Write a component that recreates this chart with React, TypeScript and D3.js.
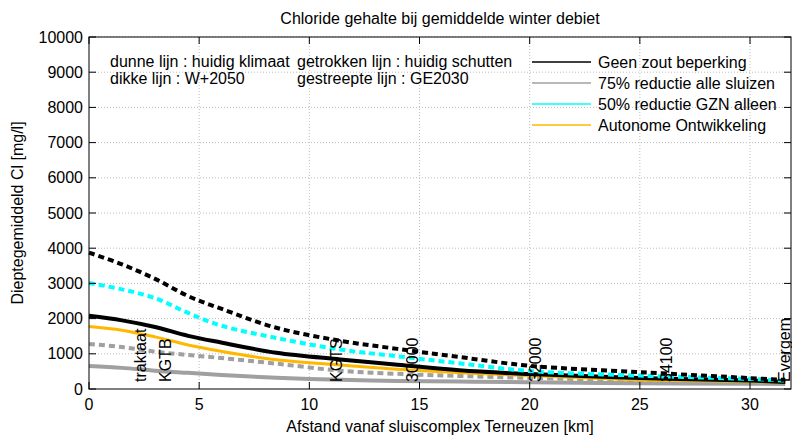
import React, { useEffect, useRef } from 'react';
import * as d3 from 'd3';

const km = [0, 1.5, 3, 4.5, 6, 8.5, 11.4, 14, 16.8, 20, 25, 30, 31.6];

// W+2050 (dikke lijnen)
const geenZoutGE = [3875, 3540, 3130, 2640, 2280, 1740, 1370, 1140, 910, 660, 480, 310, 260];
const gznGE = [3010, 2830, 2580, 2160, 1800, 1450, 1120, 930, 730, 510, 380, 285, 240];
const geenZout = [2080, 1950, 1760, 1510, 1320, 1030, 840, 690, 530, 425, 315, 240, 200];
const autonoom = [1775, 1670, 1480, 1250, 1070, 830, 685, 560, 465, 380, 265, 215, 185];
const alleSluizenGE = [1280, 1190, 1060, 965, 880, 720, 520, 430, 370, 315, 250, 215, 200];
const alleSluizen = [655, 600, 520, 460, 400, 320, 260, 230, 210, 190, 165, 150, 145];

const xTicks = [0, 5, 10, 15, 20, 25, 30];
const yTicks = [0, 1000, 2000, 3000, 4000, 5000, 6000, 7000, 8000, 9000, 10000];

const legendLabels = ['Geen zout beperking', '75% reductie alle sluizen', '50% reductie GZN alleen', 'Autonome Ontwikkeling'];
const legendColors = ['#000000', '#a0a0a0', '#00ffff', '#ffb800'];

const notesLeft = ['dunne lijn : huidig klimaat', 'dikke lijn : W+2050'];
const notesRight = ['getrokken lijn : huidig schutten', 'gestreepte lijn : GE2030'];

// locaties langs het kanaal (km)
const placeNames = ['traktaat', 'KGTB', 'KGTS', '30000', '32000', '34100', 'Evergem'];
const placeKm = [2.6, 3.7, 11.5, 14.95, 20.5, 26.45, 31.8];

const FONT = '"Liberation Sans", Arial, sans-serif';

export default function App() {
  const svgRef = useRef(null);

  useEffect(() => {
    const svg = d3.select(svgRef.current);
    svg.selectAll('*').remove();

    const W = 792, H = 439;
    const left = 89, right = 791, top = 37, bottom = 389;

    const x = d3.scaleLinear().domain([0, 31.86]).range([left, right]);
    const y = d3.scaleLinear().domain([0, 10000]).range([bottom, top]);

    svg.append('rect').attr('width', W).attr('height', H).attr('fill', '#fff');

    // grid
    const grid = svg.append('g').attr('stroke', '#bdbdbd').attr('stroke-width', 1).attr('stroke-dasharray', '1,2');
    xTicks.filter(t => t > 0).forEach(t => {
      grid.append('line').attr('x1', x(t)).attr('x2', x(t)).attr('y1', top).attr('y2', bottom);
    });
    yTicks.filter(t => t > 0).forEach(t => {
      grid.append('line').attr('x1', left).attr('x2', right).attr('y1', y(t)).attr('y2', y(t));
    });

    // lijnen
    const line = d3.line<number>()
      .x((d, i) => x(km[i]))
      .y(d => y(d))
      .curve(d3.curveCatmullRom.alpha(0.5));

    const series = [
      { data: alleSluizen, color: '#a0a0a0', width: 4, dash: null },
      { data: alleSluizenGE, color: '#a0a0a0', width: 4, dash: '6,4' },
      { data: autonoom, color: '#ffb800', width: 3, dash: null },
      { data: geenZout, color: '#000000', width: 4, dash: null },
      { data: gznGE, color: '#00ffff', width: 4, dash: '6,4' },
      { data: geenZoutGE, color: '#000000', width: 4, dash: '6,4' },
    ];
    series.forEach(s => {
      svg.append('path')
        .attr('d', line(s.data))
        .attr('fill', 'none')
        .attr('stroke', s.color)
        .attr('stroke-width', s.width)
        .attr('stroke-dasharray', s.dash);
    });

    // assen
    const axes = svg.append('g').attr('stroke', '#000').attr('stroke-width', 1);
    axes.append('rect').attr('x', left).attr('y', top).attr('width', right - left).attr('height', bottom - top).attr('fill', 'none');
    xTicks.forEach(t => {
      axes.append('line').attr('x1', x(t)).attr('x2', x(t)).attr('y1', bottom).attr('y2', bottom - 7);
      axes.append('line').attr('x1', x(t)).attr('x2', x(t)).attr('y1', top).attr('y2', top + 7);
    });
    yTicks.forEach(t => {
      axes.append('line').attr('x1', left).attr('x2', left + 7).attr('y1', y(t)).attr('y2', y(t));
      axes.append('line').attr('x1', right).attr('x2', right - 7).attr('y1', y(t)).attr('y2', y(t));
    });

    const txt = svg.append('g').attr('font-family', FONT).attr('font-size', 16).attr('fill', '#000');

    xTicks.forEach(t => {
      txt.append('text').attr('x', x(t)).attr('y', 410).attr('text-anchor', 'middle').text(t);
    });
    yTicks.forEach(t => {
      txt.append('text').attr('x', 83).attr('y', y(t)).attr('dy', '0.35em').attr('text-anchor', 'end').text(t);
    });

    txt.append('text').attr('x', (left + right) / 2).attr('y', 24).attr('text-anchor', 'middle')
      .text('Chloride gehalte bij gemiddelde winter debiet');
    txt.append('text').attr('x', (left + right) / 2).attr('y', 432).attr('text-anchor', 'middle')
      .text('Afstand vanaf sluiscomplex Terneuzen [km]');
    txt.append('text').attr('transform', `translate(23,${(top + bottom) / 2}) rotate(-90)`).attr('text-anchor', 'middle')
      .text('Dieptegemiddeld Cl [mg/l]');

    notesLeft.forEach((n, i) => {
      txt.append('text').attr('x', 110).attr('y', 67 + i * 16.5).text(n);
    });
    notesRight.forEach((n, i) => {
      txt.append('text').attr('x', 297).attr('y', 67 + i * 16.5).text(n);
    });

    // legenda
    legendLabels.forEach((l, i) => {
      const ly = 62 + i * 21;
      svg.append('line').attr('x1', 532).attr('x2', 591).attr('y1', ly).attr('y2', ly)
        .attr('stroke', legendColors[i]).attr('stroke-width', 1.5);
      txt.append('text').attr('x', 598).attr('y', ly).attr('dy', '0.35em').text(l);
    });

    // plaatsnamen
    placeNames.forEach((p, i) => {
      txt.append('text')
        .attr('transform', `translate(${x(placeKm[i])},382) rotate(-90)`)
        .text(p);
    });
  }, []);

  return (
    <svg ref={svgRef} width={792} height={439} style={{ position: 'absolute', left: 0, top: 0 }} />
  );
}
